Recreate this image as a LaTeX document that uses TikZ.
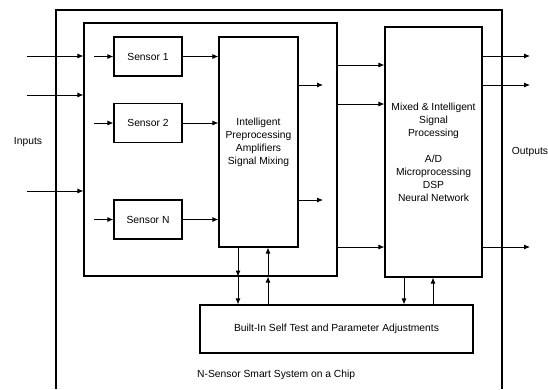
\documentclass[tikz,border=0pt]{standalone}
\usepackage{fontspec}
\setmainfont{Liberation Sans}
\usetikzlibrary{arrows.meta}
\begin{document}
\begin{tikzpicture}[
    x=1pt, y=-1pt,
    every node/.style={font=\fontsize{10.3}{13}\selectfont},
    block/.style={draw, line width=1.2pt, inner sep=0pt},
    sensor/.style={block, minimum width=68pt, minimum height=39pt},
    arr/.style={draw, -{Latex[length=6pt,width=5pt]}, line width=0.8pt},
    frame/.style={draw, line width=1.4pt}
]
\useasboundingbox (0,0) rectangle (548,389);

% chip outline, open at the bottom
\draw[frame] (56,389) -- (56,10) -- (502,10) -- (502,389);

% sensor group and blocks
\node[block, minimum width=253pt, minimum height=253pt] (grp) at (210.5,149.5) {};
\node[sensor] (s1) at (148,56.5) {Sensor 1};
\node[sensor] (s2) at (148,123) {Sensor 2};
\node[sensor] (sN) at (148,219.5) {Sensor N};
\node[block, minimum width=79pt, minimum height=210pt, align=center] (pre) at (258.5,142)
    {Intelligent\\Preprocessing\\Amplifiers\\Signal Mixing};
\node[block, minimum width=97pt, minimum height=250pt, align=center] (dsp) at (433.5,152)
    {Mixed \& Intelligent\\Signal\\Processing\\[13pt]A/D\\Microprocessing\\DSP\\Neural Network};
\node[block, minimum width=273pt, minimum height=48pt] (bist) at (336.5,329)
    {Built-In Self Test and Parameter Adjustments};

% labels
\node (inputs) at (28,142) {Inputs};
\node (outputs) at (530,152) {Outputs};
\node[anchor=west, inner sep=0pt] (chip) at (197,375) {N-Sensor Smart System on a Chip};

% free ends
\coordinate (i1) at (27,56);
\coordinate (i2) at (27,95);
\coordinate (i3) at (27,191);
\coordinate (sx) at (94,0);
\coordinate (px) at (323,0);
\coordinate (ox) at (530,0);
\coordinate (dn1) at (238,0);
\coordinate (up1) at (268,0);
\coordinate (dn2) at (404,0);
\coordinate (up2) at (433,0);

% inputs
\foreach \i in {i1,i2,i3}
    \draw[arr] (\i) -- (\i -| grp.west);

% sensors
\foreach \s in {s1,s2,sN} {
    \draw[arr] (\s.west -| sx) -- (\s.west);
    \draw[arr] (\s.east) -- (\s.east -| pre.west);
}

% preprocessing outputs
\foreach \y in {85,200}
    \draw[arr] (pre.east |- 0,\y) -- (px |- 0,\y);

% group to signal processing
\foreach \y in {65,104,247}
    \draw[arr] (grp.east |- 0,\y) -- (dsp.west |- 0,\y);

% outputs
\foreach \y in {56,85,247}
    \draw[arr] (dsp.east |- 0,\y) -- (ox |- 0,\y);

% self test links
\draw[arr] (dn1 |- pre.south) -- (dn1 |- grp.south);
\draw[arr] (dn1 |- grp.south) -- (dn1 |- bist.north);
\draw[arr] (up1 |- grp.south) -- (up1 |- pre.south);
\draw[arr] (up1 |- bist.north) -- (up1 |- grp.south);
\draw[arr] (dn2 |- dsp.south) -- (dn2 |- bist.north);
\draw[arr] (up2 |- bist.north) -- (up2 |- dsp.south);
\end{tikzpicture}
\end{document}
